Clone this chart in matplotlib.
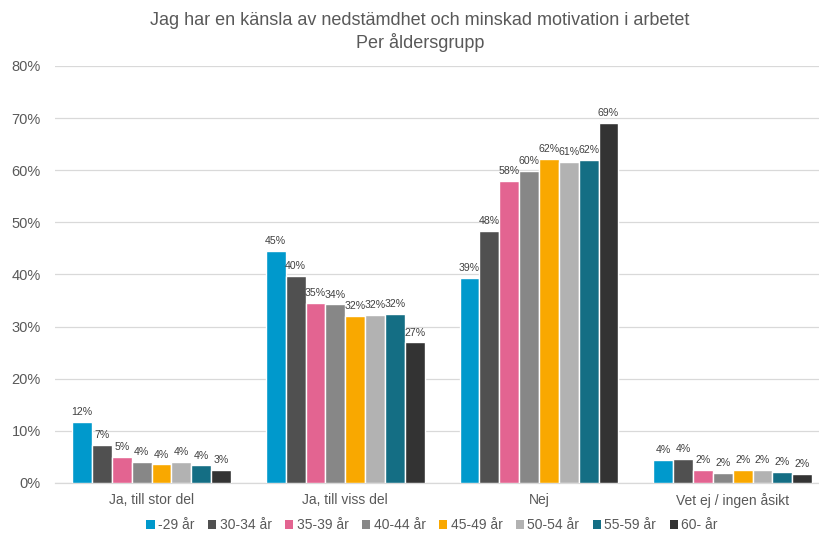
import numpy as np
import matplotlib
matplotlib.use("Agg")
import matplotlib.pyplot as plt
from matplotlib.patches import Patch

plt.rcParams['font.family'] = ['Liberation Sans', 'DejaVu Sans']

categories = ["Ja, till stor del", "Ja, till viss del", "Nej", "Vet ej / ingen åsikt"]
age_groups = ["-29 år", "30-34 år", "35-39 år", "40-44 år",
              "45-49 år", "50-54 år", "55-59 år", "60- år"]

# share per age group, one list per group, in category order
age_29 = [11.7, 44.6, 39.4, 4.4]
age_30_34 = [7.3, 39.8, 48.4, 4.6]
age_35_39 = [5.0, 34.6, 58.0, 2.5]
age_40_44 = [4.0, 34.3, 59.9, 1.9]
age_45_49 = [3.6, 32.0, 62.2, 2.5]
age_50_54 = [4.0, 32.3, 61.6, 2.5]
age_55_59 = [3.4, 32.5, 62.0, 2.1]
age_60 = [2.5, 27.0, 69.1, 1.7]

labels_29 = ["12%", "45%", "39%", "4%"]
labels_30_34 = ["7%", "40%", "48%", "4%"]
labels_35_39 = ["5%", "35%", "58%", "2%"]
labels_40_44 = ["4%", "34%", "60%", "2%"]
labels_45_49 = ["4%", "32%", "62%", "2%"]
labels_50_54 = ["4%", "32%", "61%", "2%"]
labels_55_59 = ["4%", "32%", "62%", "2%"]
labels_60 = ["3%", "27%", "69%", "2%"]

series = [age_29, age_30_34, age_35_39, age_40_44,
          age_45_49, age_50_54, age_55_59, age_60]
series_labels = [labels_29, labels_30_34, labels_35_39, labels_40_44,
                 labels_45_49, labels_50_54, labels_55_59, labels_60]
colors = ["#0099CC", "#505050", "#E36491", "#878787",
          "#F9A800", "#B2B2B2", "#146E84", "#333333"]

fig = plt.figure(figsize=(8.2, 5.37), dpi=100)
# axes run a bit past the right edge, like the original export
ax = fig.add_axes([0.0667, 0.1006, 0.945, 0.7765])

x = np.arange(len(categories))
n = len(series)
w = 0.82 / n
for i, (vals, labs) in enumerate(zip(series, series_labels)):
    pos = x - 0.41 + w * (i + 0.5)
    ax.bar(pos, vals, width=w, color=colors[i], edgecolor="white",
           linewidth=1.0, zorder=3)
    for px, v, lab in zip(pos, vals, labs):
        ax.text(px, v + 0.9, lab, ha="center", va="bottom",
                fontsize=7.6, color="#404040")

ax.set_xlim(-0.5, len(categories) - 0.5)
ax.set_ylim(0, 80)
ax.set_yticks(np.arange(0, 81, 10))
ax.set_yticklabels([f"{t}%" for t in range(0, 81, 10)])
ax.set_xticks(x)
ax.set_xticklabels(categories)
ax.tick_params(axis="both", length=0, labelsize=10, colors="#595959")
ax.tick_params(axis="y", labelsize=10.5, pad=10)
ax.tick_params(axis="x", pad=7)
ax.yaxis.grid(True, color="#D9D9D9", linewidth=0.9, zorder=0)
for s in ["top", "right", "left"]:
    ax.spines[s].set_visible(False)
ax.spines["bottom"].set_color("#D9D9D9")
ax.spines["bottom"].set_linewidth(0.9)

fig.text(0.512, 0.962, "Jag har en känsla av nedstämdhet och minskad motivation i arbetet",
         ha="center", va="center", fontsize=13, color="#595959")
fig.text(0.512, 0.921, "Per åldersgrupp", ha="center", va="center",
         fontsize=13, color="#595959")

handles = [Patch(facecolor=c, edgecolor="none") for c in colors]
fig.legend(handles, age_groups, loc="center", bbox_to_anchor=(0.527, 0.022),
           ncol=8, frameon=False, fontsize=10, handlelength=0.6,
           handleheight=0.6, handletextpad=0.25, columnspacing=0.95,
           labelcolor="#595959")

fig.savefig("out.png", dpi=100)
